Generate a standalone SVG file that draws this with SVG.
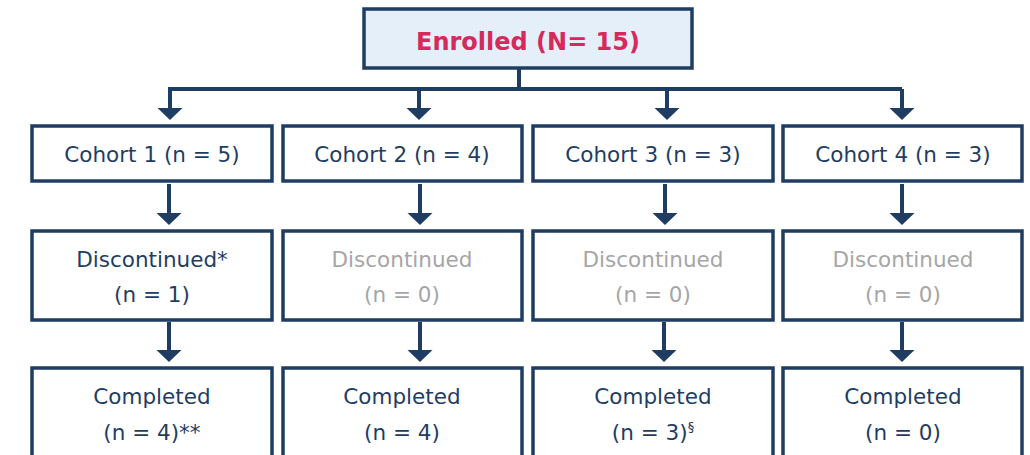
<svg xmlns="http://www.w3.org/2000/svg" width="1030" height="455" viewBox="0 0 1030 455">
<style>
.box{fill:#ffffff;stroke:#1f3d63;stroke-width:3.5}
.top{fill:#e5eff9;stroke:#1f3d63;stroke-width:3.5}
.t{font-family:"DejaVu Sans","Liberation Sans",sans-serif;font-size:21.5px;fill:#1f3d63;text-anchor:middle}
.g{fill:#a6a6a6}
.e{font-family:"DejaVu Sans","Liberation Sans",sans-serif;font-size:24px;font-weight:bold;fill:#d62a5d;text-anchor:middle}
.ln{fill:none;stroke:#1f3d63;stroke-width:4}
.ah{fill:#1f3d63}
</style>
<defs>
<path id="head" class="ah" d="M-12.5,0 L12.5,0 L0,12 Z"/>
</defs>
<g id="connectors">
<path class="ln" d="M519,68 V89 M170,89 H902 M170,87 V110 M419,89 V110 M667,89 V110 M902,89 V110"/>
<use href="#head" x="170" y="108"/>
<use href="#head" x="419" y="108"/>
<use href="#head" x="667" y="108"/>
<use href="#head" x="902" y="108"/>
<path class="ln" d="M169,184 V215 M420,184 V215 M665,184 V215 M902,184 V215"/>
<use href="#head" x="169" y="213"/>
<use href="#head" x="420" y="213"/>
<use href="#head" x="665" y="213"/>
<use href="#head" x="902" y="213"/>
<path class="ln" d="M169,322 V352 M420,322 V352 M664,322 V352 M902,322 V352"/>
<use href="#head" x="169" y="350"/>
<use href="#head" x="420" y="350"/>
<use href="#head" x="664" y="350"/>
<use href="#head" x="902" y="350"/>
</g>
<g id="enrolled"><rect class="top" x="364" y="9" width="328" height="59"/><text class="e" x="528" y="50">Enrolled (N= 15)</text></g>
<g id="cohort1"><rect class="box" x="32" y="126" width="240" height="55"/><text class="t" x="152" y="162">Cohort 1 (n = 5)</text></g>
<g id="cohort2"><rect class="box" x="283" y="126" width="239" height="55"/><text class="t" x="402" y="162">Cohort 2 (n = 4)</text></g>
<g id="cohort3"><rect class="box" x="533" y="126" width="240" height="55"/><text class="t" x="653" y="162">Cohort 3 (n = 3)</text></g>
<g id="cohort4"><rect class="box" x="783" y="126" width="239" height="55"/><text class="t" x="903" y="162">Cohort 4 (n = 3)</text></g>
<g id="disc1"><rect class="box" x="32" y="231" width="240" height="89"/><text class="t" x="152" y="267">Discontinued*</text><text class="t" x="152" y="302">(n = 1)</text></g>
<g id="disc2"><rect class="box" x="283" y="231" width="239" height="89"/><text class="t g" x="402" y="267">Discontinued</text><text class="t g" x="402" y="302">(n = 0)</text></g>
<g id="disc3"><rect class="box" x="533" y="231" width="240" height="89"/><text class="t g" x="653" y="267">Discontinued</text><text class="t g" x="653" y="302">(n = 0)</text></g>
<g id="disc4"><rect class="box" x="783" y="231" width="239" height="89"/><text class="t g" x="903" y="267">Discontinued</text><text class="t g" x="903" y="302">(n = 0)</text></g>
<g id="comp1"><rect class="box" x="32" y="368" width="240" height="110"/><text class="t" x="152" y="404">Completed</text><text class="t" x="152" y="440">(n = 4)**</text></g>
<g id="comp2"><rect class="box" x="283" y="368" width="239" height="110"/><text class="t" x="402" y="404">Completed</text><text class="t" x="402" y="440">(n = 4)</text></g>
<g id="comp3"><rect class="box" x="533" y="368" width="240" height="110"/><text class="t" x="653" y="404">Completed</text><text class="t" x="653" y="440">(n = 3)<tspan font-size="13" dy="-9">§</tspan></text></g>
<g id="comp4"><rect class="box" x="783" y="368" width="239" height="110"/><text class="t" x="903" y="404">Completed</text><text class="t" x="903" y="440">(n = 0)</text></g>
</svg>
